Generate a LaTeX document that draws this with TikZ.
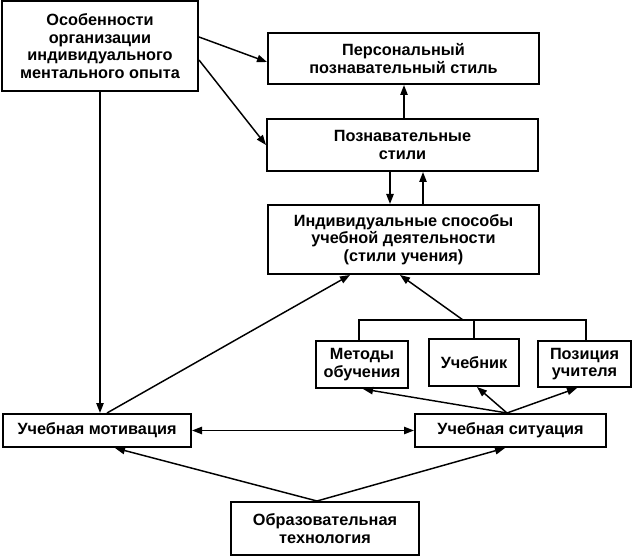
\documentclass[tikz,border=0pt]{standalone}
\usepackage{fontspec}
\setmainfont{Liberation Sans}
\usetikzlibrary{arrows.meta,calc}
\begin{document}
\begin{tikzpicture}[x=0.75pt,y=-0.75pt,
  box/.style={draw, line width=1.5pt, align=center, inner sep=0pt,
    font=\bfseries\fontsize{12.2pt}{13.3pt}\selectfont},
  tip/.tip={Triangle[length=7.5pt,width=5.5pt]},
  conn/.style={line width=1.1pt, -tip},
  plain/.style={line width=1.1pt}]
\useasboundingbox (0,0) rectangle (632,556);
\node[box, minimum width={196*0.75pt}, minimum height={90*0.75pt}] (A) at (100,46) {Особенности\\организации\\индивидуального\\ментального опыта};
\node[box, minimum width={271*0.75pt}, minimum height={51*0.75pt}] (B) at (403.5,58.5) {Персональный\\познавательный стиль};
\node[box, minimum width={271*0.75pt}, minimum height={52*0.75pt}] (C) at (402.5,145) {Познавательные\\стили};
\node[box, minimum width={271*0.75pt}, minimum height={69*0.75pt}] (D) at (403.5,239.5) {Индивидуальные способы\\учебной деятельности\\(стили учения)};
\node[box, minimum width={92*0.75pt}, minimum height={47*0.75pt}] (M) at (362,364.5) {Методы\\обучения};
\node[box, minimum width={90*0.75pt}, minimum height={47*0.75pt}] (U) at (474,362.5) {Учебник};
\node[box, minimum width={93*0.75pt}, minimum height={46*0.75pt}] (P) at (584.5,364) {Позиция\\учителя};
\node[box, minimum width={188*0.75pt}, minimum height={33*0.75pt}] (Mot) at (97,430.5) {Учебная мотивация};
\node[box, minimum width={191*0.75pt}, minimum height={33*0.75pt}] (Sit) at (510.5,430.5) {Учебная ситуация};
\node[box, minimum width={188*0.75pt}, minimum height={53*0.75pt}] (T) at (325,528.5) {Образовательная\\технология};
\coordinate (br) at (463,320);
\draw[conn] (A.east |- 0,37) -- (B.west |- 0,62);
\draw[conn] (A.east |- 0,60) -- (C.west |- 0,145);
\draw[conn] (C.north -| 404,0) -- (B.south -| 404,0);
\draw[conn] (C.south -| 390,0) -- (D.north -| 390,0);
\draw[conn] (D.north -| 423,0) -- (C.south -| 423,0);
\draw[conn] (A.south -| 100,0) -- (Mot.north -| 100,0);
\draw[conn] (Mot.north -| 107,0) -- (D.south -| 350,0);
\draw[plain] (M.north -| 359,0) -- (359,320) -- (586,320) -- (P.north -| 586,0);
\draw[plain] (U.north -| 474,0) -- (474,320);
\draw[conn] (br) -- (D.south -| 400,0);
\draw[conn, tip-tip] (Mot.east) -- (Sit.west);
\draw[conn] (T.north -| 317,0) -- (Mot.south -| 115,0);
\draw[conn] (T.north -| 317,0) -- (Sit.south -| 505,0);
\draw[conn] (Sit.north -| 507,0) -- (M.south -| 363,0);
\draw[conn] (Sit.north -| 507,0) -- (U.south -| 477,0);
\draw[conn] (Sit.north -| 507,0) -- (P.south -| 577,0);
\end{tikzpicture}
\end{document}
